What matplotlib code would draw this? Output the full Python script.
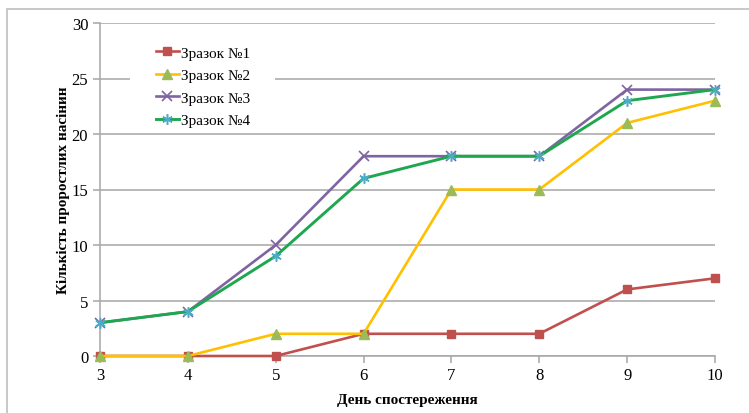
import matplotlib.pyplot as plt
from matplotlib.patches import Rectangle

days = [3, 4, 5, 6, 7, 8, 9, 10]
sample1 = [0, 0, 0, 2, 2, 2, 6, 7]
sample2 = [0, 0, 2, 2, 15, 15, 21, 23]
sample3 = [3, 4, 10, 18, 18, 18, 24, 24]
sample4 = [3, 4, 9, 16, 18, 18, 23, 24]
names = ['Зразок №1', 'Зразок №2', 'Зразок №3', 'Зразок №4']

plt.rcParams['font.family'] = ['Liberation Serif', 'DejaVu Serif']

fig = plt.figure(figsize=(7.49, 4.14), dpi=100)
# chart area border
fig.patches.append(Rectangle((7/749, -0.1), 1.0, 1 - 10/414 + 0.1,
                             transform=fig.transFigure, fill=False,
                             edgecolor='#BFBFBF', linewidth=1.2))

ax = fig.add_axes([100/749, 1 - 357/414, 615/749, 333/414])

ax.plot(days, sample1, color='#C0504D', lw=1.9, marker='s', ms=5.5,
        mfc='#C0504D', mec='#C0504D', label=names[0], clip_on=False, zorder=3)
ax.plot(days, sample2, color='#FFC000', lw=1.9, marker='^', ms=6.5,
        mfc='#9BBB59', mec='#9BBB59', label=names[1], clip_on=False, zorder=3)
ax.plot(days, sample3, color='#8064A2', lw=1.9, marker='x', ms=6.5, mew=1.2,
        mec='#8064A2', label=names[2], clip_on=False, zorder=3)
ax.plot(days, sample4, color='#1FA750', lw=2.1, marker=(6, 2, 0), ms=7.5, mew=1.1,
        mec='#4BACC6', label=names[3], clip_on=False, zorder=3)

ax.set_xlim(3, 10)
ax.set_ylim(0, 30)
ax.set_xticks(days)
ax.set_yticks(range(0, 31, 5))
ax.yaxis.grid(True, color='#A6A6A6', lw=1.1)
ax.set_axisbelow(True)
for side in ['top', 'right']:
    ax.spines[side].set_visible(False)
for side in ['left', 'bottom']:
    ax.spines[side].set_color('#A6A6A6')
    ax.spines[side].set_linewidth(1.1)
ax.tick_params(axis='both', colors='#A6A6A6', labelcolor='black',
               labelsize=12, length=5, width=1.1, direction='out')
ax.tick_params(axis='x', pad=3)

ax.set_xlabel('День спостереження', fontsize=11, fontweight='bold', labelpad=7)
ax.set_ylabel('Кількість проростлих насінин', fontsize=11, fontweight='bold',
              labelpad=1)

# white area behind the legend
ax.add_patch(Rectangle((30/615, (357-130)/333), 145/615, 95/333,
                       transform=ax.transAxes, facecolor='white',
                       edgecolor='none', zorder=1.5))
leg = ax.legend(loc='upper left', bbox_to_anchor=(56/615, (357-47)/333),
                frameon=False, fontsize=11, handlelength=1.5,
                handletextpad=0.15, labelspacing=0.58, borderpad=0,
                borderaxespad=0)

fig.savefig('out.png', dpi=100)
